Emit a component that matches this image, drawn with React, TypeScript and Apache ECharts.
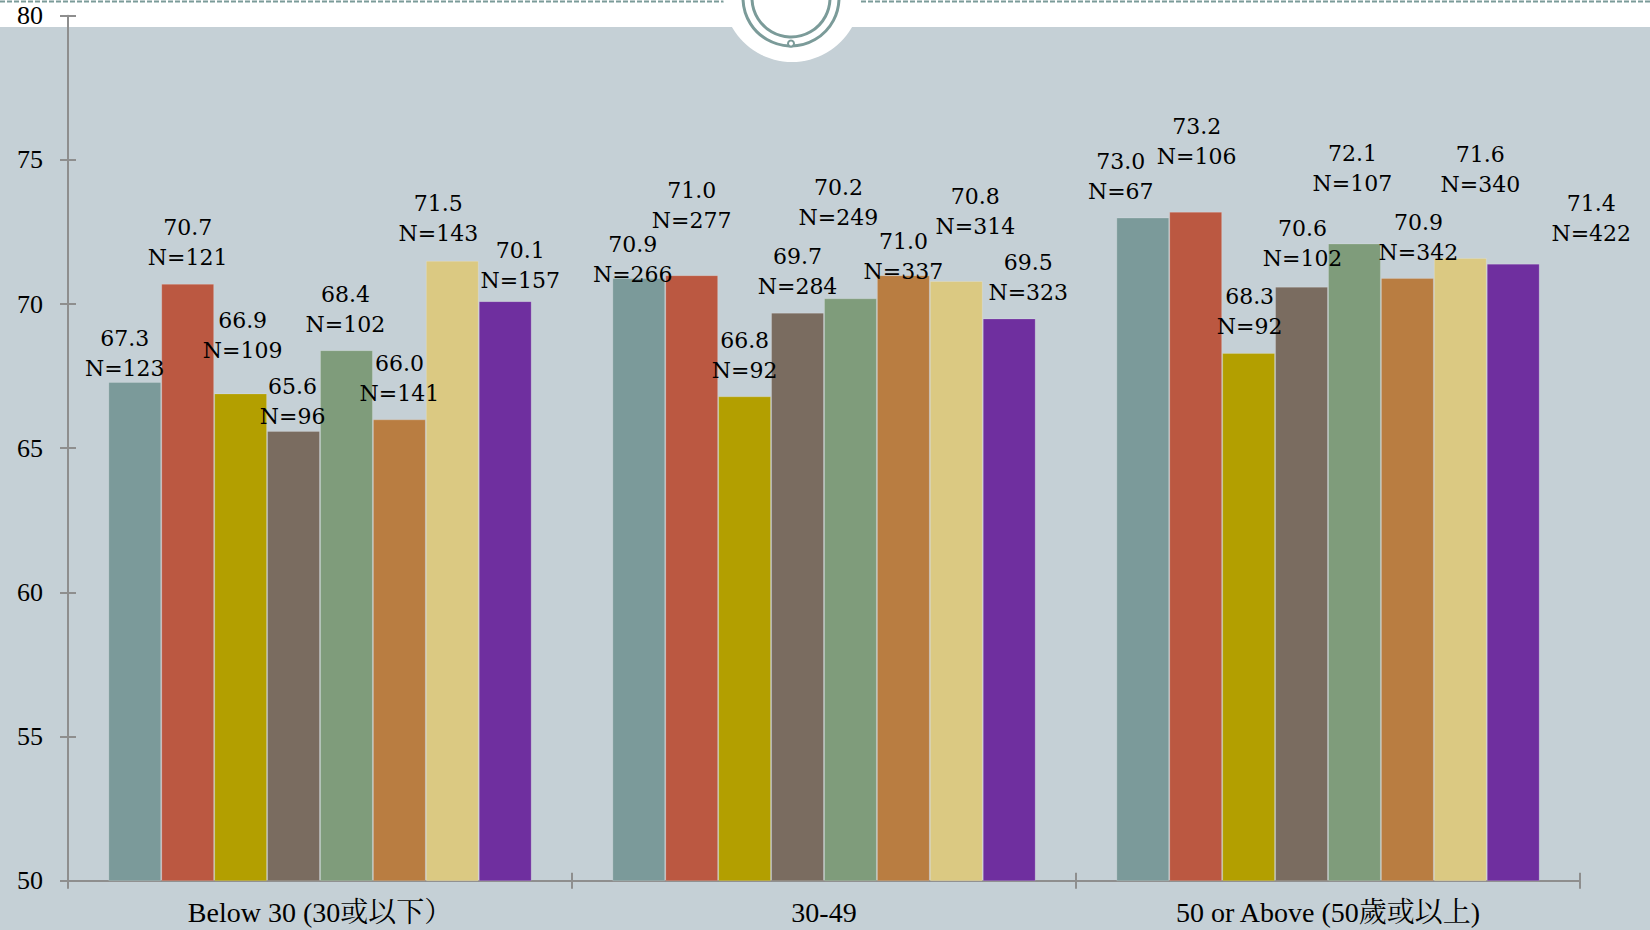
import { useEffect, useRef } from 'react';
import * as echarts from 'echarts';

// ---- data ----
const categories = ['Below 30 (30或以下）', '30-49', '50 or Above (50歲或以上)'];
const seriesNames = ['Series 1', 'Series 2', 'Series 3', 'Series 4', 'Series 5', 'Series 6', 'Series 7', 'Series 8'];

const values1 = [67.3, 70.9, 73.0];
const values2 = [70.7, 71.0, 73.2];
const values3 = [66.9, 66.8, 68.3];
const values4 = [65.6, 69.7, 70.6];
const values5 = [68.4, 70.2, 72.1];
const values6 = [66.0, 71.0, 70.9];
const values7 = [71.5, 70.8, 71.6];
const values8 = [70.1, 69.5, 71.4];

const counts1 = [123, 266, 67];
const counts2 = [121, 277, 106];
const counts3 = [109, 92, 92];
const counts4 = [96, 284, 102];
const counts5 = [102, 249, 107];
const counts6 = [141, 337, 342];
const counts7 = [143, 314, 340];
const counts8 = [157, 323, 422];

const yTicks = { min: 50, max: 80, interval: 5 };

// ---- styling ----
const colors = ['#7b9a9a', '#bb5841', '#b39f00', '#7a6c60', '#7f9c7b', '#b97d41', '#dbc982', '#6f2f9f'];
// manual label nudges [dx, dy] as in the original (per series, per category)
const labelNudges = [
  [[-10, 2], [-6, 11], [-22, -11]],
  [[0, -11], [0, -40], [1, -40]],
  [[2, -28], [0, -11], [1, -12]],
  [[-1, 1], [0, -11], [1, -13]],
  [[-1, -11], [-12, -66], [-2, -45]],
  [[0, -11], [0, 11], [11, -11]],
  [[-14, -12], [19, -39], [20, -58]],
  [[15, -6], [19, -11], [78, -15]],
];

const allValues = [values1, values2, values3, values4, values5, values6, values7, values8];
const allCounts = [counts1, counts2, counts3, counts4, counts5, counts6, counts7, counts8];

const axisGray = '#8e8e8e';
const decoColor = '#7b9b99';
const serifFont = "'Liberation Serif', 'Noto Serif CJK TC', 'Noto Sans CJK TC', serif";

export default function App() {
  const ref = useRef<HTMLDivElement>(null);

  useEffect(() => {
    document.body.style.margin = '0';
    if (!ref.current) return;
    const chart = echarts.init(ref.current, undefined, { renderer: 'svg' });

    const gridLeft = 68;
    const gridRight = 70;
    const gridTop = 15.7;
    const gridBottom = 49.3;
    const gridW = 1650 - gridLeft - gridRight;
    const gridH = 930 - gridTop - gridBottom;

    const series = allValues.map((vals, si) => ({
      name: seriesNames[si],
      type: 'bar',
      barGap: '0%',
      barCategoryGap: '16%',
      itemStyle: { color: colors[si], borderColor: 'rgba(255,255,255,0.18)', borderWidth: 1 },
      label: {
        show: true,
        position: 'top',
        distance: 0,
        color: '#000',
        fontFamily: "'DejaVu Serif', serif",
        fontSize: 22,
        lineHeight: 30,
        formatter: (p: any) => `${allValues[p.seriesIndex][p.dataIndex].toFixed(1)}\nN=${allCounts[p.seriesIndex][p.dataIndex]}`,
      },
      data: vals.map((v, ci) => ({ value: v, label: { offset: labelNudges[si][ci] } })),
    }));

    chart.setOption({
      animation: false,
      backgroundColor: '#ffffff',
      grid: { left: gridLeft, right: gridRight, top: gridTop, bottom: gridBottom, containLabel: false },
      xAxis: [
        {
          type: 'category',
          data: categories,
          axisLine: { show: true, lineStyle: { color: axisGray, width: 2 } },
          axisTick: { show: true, length: 8, lineStyle: { color: axisGray, width: 2 } },
          axisLabel: { color: '#000', fontFamily: serifFont, fontSize: 28, margin: 18 },
        },
        {
          type: 'category',
          data: categories,
          position: 'top',
          offset: -gridH,
          axisLine: { show: false },
          axisTick: { show: true, length: 8, lineStyle: { color: axisGray, width: 2 } },
          axisLabel: { show: false },
        },
      ],
      yAxis: [
        {
          type: 'value',
          min: yTicks.min,
          max: yTicks.max,
          interval: yTicks.interval,
          axisLine: { show: true, lineStyle: { color: axisGray, width: 2 } },
          axisTick: { show: true, length: 8, lineStyle: { color: axisGray, width: 2 } },
          splitLine: { show: false },
          axisLabel: { color: '#000', fontFamily: serifFont, fontSize: 26, margin: 25 },
        },
        {
          type: 'value',
          min: yTicks.min,
          max: yTicks.max,
          interval: yTicks.interval,
          position: 'right',
          offset: -gridW,
          axisLine: { show: false },
          axisTick: { show: true, length: 8, lineStyle: { color: axisGray, width: 2 } },
          splitLine: { show: false },
          axisLabel: { show: false },
        },
      ],
      graphic: [
        { type: 'rect', z: -10, silent: true, shape: { x: 0, y: 27, width: 1650, height: 903 }, style: { fill: '#c5d0d6' } },
        { type: 'line', z: 5, silent: true, shape: { x1: 0, y1: 1.5, x2: 1650, y2: 1.5 }, style: { stroke: decoColor, lineWidth: 2, lineDash: [5, 2] } },
        { type: 'circle', z: 6, silent: true, shape: { cx: 792, cy: -7, r: 69 }, style: { fill: '#ffffff' } },
        { type: 'circle', z: 7, silent: true, shape: { cx: 791, cy: -2, r: 48 }, style: { fill: 'none', stroke: decoColor, lineWidth: 3 } },
        { type: 'circle', z: 7, silent: true, shape: { cx: 791, cy: -2, r: 39 }, style: { fill: 'none', stroke: decoColor, lineWidth: 3 } },
        { type: 'circle', z: 8, silent: true, shape: { cx: 791, cy: 43.5, r: 3 }, style: { fill: '#ffffff', stroke: decoColor, lineWidth: 2 } },
      ],
      series,
    });

    return () => chart.dispose();
  }, []);

  return <div ref={ref} style={{ width: 1650, height: 930 }} />;
}
